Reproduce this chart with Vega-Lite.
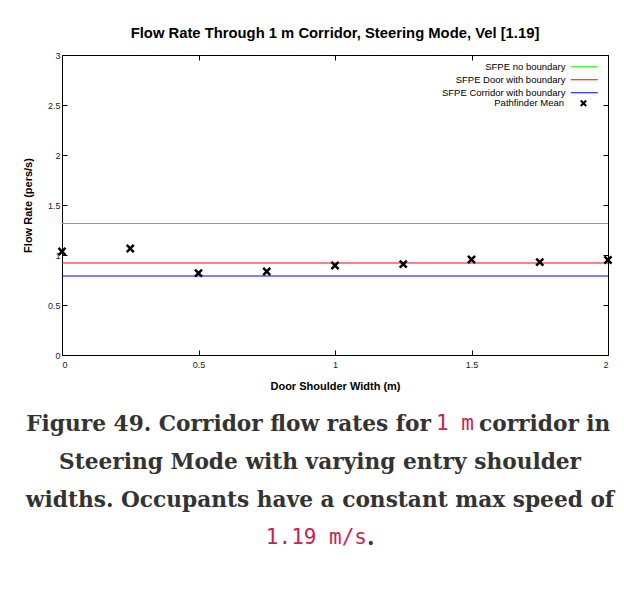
{
  "$schema": "https://vega.github.io/schema/vega-lite/v6.json",
  "background": "white",
  "padding": {"left": 22, "top": 26, "right": 0, "bottom": 0},
  "width": 546,
  "height": 300,
  "config": {
    "view": {"stroke": null},
    "font": "Liberation Sans",
    "axis": {
      "grid": false,
      "domainColor": "black",
      "domainWidth": 1,
      "tickColor": "black",
      "tickWidth": 1,
      "tickSize": -5,
      "labelFont": "Liberation Sans",
      "labelFontSize": 9,
      "labelColor": "#222",
      "titleFont": "Liberation Sans",
      "titleFontSize": 11,
      "titleFontWeight": "bold",
      "titleColor": "black",
      "format": "~g"
    }
  },
  "title": {
    "text": "Flow Rate Through 1 m Corridor, Steering Mode, Vel [1.19]",
    "font": "Liberation Sans",
    "fontSize": 14.8,
    "fontWeight": "bold",
    "color": "black",
    "anchor": "middle",
    "offset": 10
  },
  "layer": [
    {
      "data": {"values": [
        {"series": "SFPE no boundary", "flow": 1.315},
        {"series": "SFPE Door with boundary", "flow": 0.92},
        {"series": "SFPE Corridor with boundary", "flow": 0.79}
      ]},
      "mark": {"type": "rule", "strokeWidth": 1},
      "encoding": {
        "x": {"datum": 0, "type": "quantitative", "scale": {"domain": [0, 2], "nice": false},
          "axis": {"orient": "top", "values": [0, 0.5, 1, 1.5, 2], "labels": false, "title": null}},
        "x2": {"datum": 2},
        "y": {"field": "flow", "type": "quantitative", "scale": {"domain": [0, 3], "nice": false},
          "axis": {"orient": "left", "values": [0, 0.5, 1, 1.5, 2, 2.5, 3], "title": "Flow Rate (pers/s)", "labelPadding": 7, "titlePadding": 14}},
        "color": {
          "field": "series", "type": "nominal",
          "scale": {
            "domain": ["SFPE no boundary", "SFPE Door with boundary", "SFPE Corridor with boundary"],
            "range": ["#00ff00", "#ff0000", "#0000ff"]
          },
          "legend": {
            "title": null,
            "orient": "none",
            "legendX": 514.75,
            "legendY": 4.25,
            "labelFont": "Liberation Sans",
            "labelFontSize": 9.5,
            "labelColor": "black",
            "labelAlign": "right",
            "labelOffset": -26.25,
            "rowPadding": 1,
            "symbolType": "M-2,0L2,0",
            "symbolSize": 182,
            "symbolStrokeWidth": 1
          }
        }
      }
    },
    {
      "data": {"values": [
        {"label": "Pathfinder Mean", "width": 0, "flow": 1.035},
        {"label": "Pathfinder Mean", "width": 0.25, "flow": 1.065},
        {"label": "Pathfinder Mean", "width": 0.5, "flow": 0.818},
        {"label": "Pathfinder Mean", "width": 0.75, "flow": 0.835},
        {"label": "Pathfinder Mean", "width": 1.0, "flow": 0.895},
        {"label": "Pathfinder Mean", "width": 1.25, "flow": 0.908},
        {"label": "Pathfinder Mean", "width": 1.5, "flow": 0.955},
        {"label": "Pathfinder Mean", "width": 1.75, "flow": 0.928},
        {"label": "Pathfinder Mean", "width": 2.0, "flow": 0.95}
      ]},
      "mark": {"type": "point", "size": 50, "strokeWidth": 2.5, "filled": false, "opacity": 1, "color": "black"},
      "encoding": {
        "x": {"field": "width", "type": "quantitative", "scale": {"domain": [0, 2], "nice": false},
          "axis": {"orient": "bottom", "values": [0, 0.5, 1, 1.5, 2], "title": "Door Shoulder Width (m)", "labelPadding": 10, "titlePadding": 11}},
        "y": {"field": "flow", "type": "quantitative", "scale": {"domain": [0, 3], "nice": false},
          "axis": {"orient": "right", "values": [0, 0.5, 1, 1.5, 2, 2.5, 3], "labels": false, "title": null}},
        "shape": {
          "field": "label", "type": "nominal",
          "scale": {"domain": ["Pathfinder Mean"], "range": ["M-1,-1L1,1M-1,1L1,-1"]},
          "legend": {
            "title": null,
            "orient": "none",
            "legendX": 516.75,
            "legendY": 43.5,
            "labelFont": "Liberation Sans",
            "labelFontSize": 9.5,
            "labelColor": "black",
            "labelAlign": "right",
            "labelOffset": -24.25,
            "symbolSize": 30,
            "symbolStrokeWidth": 2,
            "symbolStrokeColor": "black",
            "symbolFillColor": "transparent"
          }
        }
      }
    },
    {
      "data": {"values": [
        {"line": 1, "part": "pre", "text": "Figure 49. Corridor flow rates for"},
        {"line": 1, "part": "code", "text": "1 m"},
        {"line": 1, "part": "post", "text": "corridor in"},
        {"line": 2, "part": "full", "text": "Steering Mode with varying entry shoulder"},
        {"line": 3, "part": "full", "text": "widths. Occupants have a constant max speed of"},
        {"line": 4, "part": "code", "text": "1.19 m/s"},
        {"line": 4, "part": "post", "text": "."}
      ]},
      "encoding": {
        "y": {"field": "line", "type": "quantitative", "scale": {"domain": [1, 4], "range": [369, 483], "nice": false, "zero": false}, "axis": null}
      },
      "layer": [
        {
          "transform": [{"filter": "datum.part === 'full'"}],
          "mark": {"type": "text", "font": "DejaVu Serif", "fontWeight": "bold", "fontSize": 21.7, "color": "#333", "align": "center", "baseline": "middle"},
          "encoding": {"text": {"field": "text"}, "x": {"datum": 258, "type": "quantitative", "scale": {"domain": [0, 546], "nice": false, "zero": false}, "axis": null}}
        },
        {
          "transform": [{"filter": "datum.line === 1 && datum.part === 'pre'"}],
          "mark": {"type": "text", "font": "DejaVu Serif", "fontWeight": "bold", "fontSize": 21.7, "color": "#333", "align": "right", "baseline": "middle"},
          "encoding": {"text": {"field": "text"}, "x": {"datum": 369, "type": "quantitative"}}
        },
        {
          "transform": [{"filter": "datum.line === 1 && datum.part === 'code'"}],
          "mark": {"type": "text", "font": "DejaVu Sans Mono", "fontSize": 21, "color": "#c7254e", "align": "left", "baseline": "middle"},
          "encoding": {"text": {"field": "text"}, "x": {"datum": 374, "type": "quantitative"}}
        },
        {
          "transform": [{"filter": "datum.line === 1 && datum.part === 'post'"}],
          "mark": {"type": "text", "font": "DejaVu Serif", "fontWeight": "bold", "fontSize": 21.7, "color": "#333", "align": "left", "baseline": "middle"},
          "encoding": {"text": {"field": "text"}, "x": {"datum": 417, "type": "quantitative"}}
        },
        {
          "transform": [{"filter": "datum.line === 4 && datum.part === 'code'"}],
          "mark": {"type": "text", "font": "DejaVu Sans Mono", "fontSize": 21, "color": "#c7254e", "align": "right", "baseline": "middle"},
          "encoding": {"text": {"field": "text"}, "x": {"datum": 305, "type": "quantitative"}}
        },
        {
          "transform": [{"filter": "datum.line === 4 && datum.part === 'post'"}],
          "mark": {"type": "text", "font": "DejaVu Serif", "fontWeight": "bold", "fontSize": 21.7, "color": "#333", "align": "left", "baseline": "middle"},
          "encoding": {"text": {"field": "text"}, "x": {"datum": 305, "type": "quantitative"}}
        }
      ]
    }
  ],
  "resolve": {
    "scale": {"x": "independent", "y": "independent"},
    "axis": {"x": "independent", "y": "independent"}
  }
}
